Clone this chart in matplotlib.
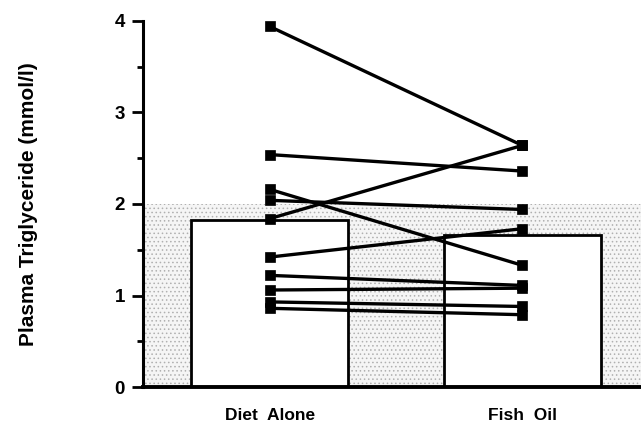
import numpy as np
import matplotlib
matplotlib.use('Agg')
import matplotlib.pyplot as plt

plt.rcParams['font.family'] = ['Liberation Sans', 'DejaVu Sans']
plt.rcParams['font.weight'] = 'bold'
plt.rcParams['hatch.linewidth'] = 0.6

# data
groups = ['Diet  Alone', 'Fish  Oil']
means = [1.82, 1.66]
diet = [3.94, 2.54, 2.16, 2.04, 1.84, 1.42, 1.22, 1.06, 0.93, 0.86]
fish = [2.64, 2.36, 1.33, 1.94, 2.64, 1.73, 1.11, 1.08, 0.88, 0.79]
yticks = [0, 1, 2, 3, 4]
normal_upper = 2.0

fig = plt.figure(figsize=(6.41, 4.25), dpi=100)
ax = fig.add_axes([0.223, 0.0894, 0.777, 0.8612])

x = np.arange(len(groups))

# stippled band behind the bars
ax.axhspan(0, normal_upper, facecolor='#f5f5f5', edgecolor='#b0b0b0',
           hatch='....', linewidth=0, zorder=0)

ax.bar(x, means, width=0.62, color='white', edgecolor='black',
       linewidth=2.0, zorder=2)

for a, b in zip(diet, fish):
    ax.plot(x, [a, b], color='black', lw=2.4, marker='s', ms=7.5,
            mfc='black', mec='black', mew=0.5, zorder=3)

ax.set_xlim(-0.502, 1.47)
ax.set_ylim(0, 4)
ax.set_yticks(yticks)
ax.set_yticks(np.arange(0.5, 4, 1.0), minor=True)
ax.set_yticklabels([str(t) for t in yticks], fontsize=13.5, fontweight='bold')
ax.tick_params(axis='y', which='major', length=8, width=2.0, pad=5)
ax.tick_params(axis='y', which='minor', length=4, width=2.0)
ax.set_xticks(x)
ax.set_xticklabels(groups, fontsize=12.5, fontweight='bold')
ax.tick_params(axis='x', length=0, pad=15)

ax.set_ylabel('Plasma Triglyceride (mmol/l)', fontsize=15,
              fontweight='bold', labelpad=55)

for s in ['top', 'right']:
    ax.spines[s].set_visible(False)
ax.spines['left'].set_linewidth(2.2)
ax.spines['bottom'].set_linewidth(2.8)

fig.savefig('out.png', dpi=100)
